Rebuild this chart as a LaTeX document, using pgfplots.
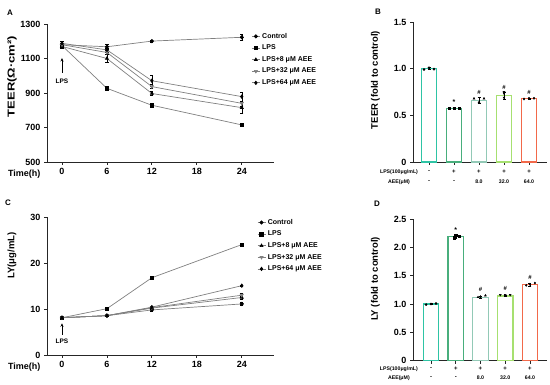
\documentclass[border=0pt]{standalone}
\usepackage{graphicx}
\usepackage{pgfplots}
\pgfplotsset{compat=1.18}
\usepackage{fontspec}
\setmainfont{Liberation Sans}
\usetikzlibrary{arrows.meta}
\definecolor{cA}{HTML}{2EC4A5}
\definecolor{cB}{HTML}{48AE7C}
\definecolor{cC}{HTML}{92C9B6}
\definecolor{cD}{HTML}{A6E070}
\definecolor{cE}{HTML}{F2694A}
\newcommand{\fs}[1]{\bfseries\fontsize{#1}{#1}\selectfont}
\begin{document}
\begin{tikzpicture}
\useasboundingbox (0pt,0pt) rectangle (550pt,385pt);
\pgfplotsset{
  base/.style={scale only axis, axis lines=left,
    axis line style={-, line width=0.9pt, black!85},
    tick style={line width=0.8pt, black!85}, tick align=outside, major tick length=3pt,
    ticklabel style={font=\fs{9}}, font=\fs{9},
    /pgf/number format/assume math mode=true, /pgf/number format/1000 sep={}, clip=false},
  ln/.style={color=black!50, line width=0.7pt, mark size=1.7pt,
    mark options={black, fill=black, solid},
    error bars/y dir=both, error bars/y explicit,
    error bars/error bar style={black, line width=0.5pt},
    error bars/error mark options={black, rotate=90, mark size=1.6pt, line width=0.5pt}},
  lg/.style={legend style={draw=none, fill=none, font=\fs{7}, row sep=1.2pt,
      inner sep=0pt, cells={anchor=west}},
    legend image code/.code={\draw[mark repeat=2,mark phase=2] plot coordinates {(0pt,0pt) (4pt,0pt) (8pt,0pt)};}},
  br/.style={ybar, bar shift=0pt, bar width=15.5pt, fill=white, line width=1.2pt,
    error bars/y dir=both, error bars/y explicit,
    error bars/error bar style={black, line width=0.5pt},
    error bars/error mark options={black, rotate=90, mark size=1.5pt, line width=0.5pt}},
  pts/.style={only marks, black, mark size=1.1pt},
}
% ---------- Panel A ----------
\begin{axis}[base, lg, at={(47pt,223pt)}, anchor=south west, width=227pt, height=138pt,
  xmin=-2, xmax=28.3, ymin=500, ymax=1300,
  xtick={0,6,12,18,24}, ytick={500,700,900,1100,1300},
  ylabel={\scalebox{1.3}[1]{TEER(Ω·cm²)}},
  ylabel style={at={(axis description cs:-0.154,0.62)}, anchor=center, font=\fs{10}},
  legend style={at={(axis description cs:0.9,0.95)}, anchor=north west}]
\addplot[ln, mark=*] coordinates {(0,1180) +- (0,10) (6,1168) +- (0,12) (12,1201) +- (0,6) (24,1223) +- (0,20)};
\addplot[ln, mark=square*] coordinates {(0,1175) +- (0,8) (6,927) +- (0,8) (12,829) +- (0,8) (24,715) +- (0,8)};
\addplot[ln, mark=triangle*] coordinates {(0,1170) +- (0,10) (6,1100) +- (0,22) (12,897) +- (0,12) (24,815) +- (0,35)};
\addplot[ln, mark=triangle*, mark options={rotate=180}] coordinates {(0,1180) +- (0,10) (6,1135) +- (0,12) (12,937) +- (0,12) (24,840) +- (0,15)};
\addplot[ln, mark=diamond*] coordinates {(0,1188) +- (0,10) (6,1150) +- (0,12) (12,971) +- (0,30) (24,879) +- (0,25)};
\legend{Control,LPS,LPS+8 μM AEE,LPS+32 μM AEE,LPS+64 μM AEE}
\draw[-{Stealth[length=3.5pt,width=3pt]}, line width=0.6pt] (axis cs:0,1016) -- (axis cs:0,1103);
\node[font=\fs{6.5}] at (axis cs:0,968) {LPS};
\node[font=\fs{9}] at (axis description cs:-0.10,-0.087) {Time(h)};
\end{axis}
% ---------- Panel C ----------
\begin{axis}[base, lg, at={(47pt,30pt)}, anchor=south west, width=227pt, height=138pt,
  xmin=-2, xmax=28.3, ymin=0, ymax=30,
  xtick={0,6,12,18,24}, ytick={0,10,20,30},
  ylabel={LY(μg/mL)},
  ylabel style={at={(axis description cs:-0.154,0.72)}, anchor=center, font=\fs{9.5}},
  legend style={at={(axis description cs:0.925,1.0)}, anchor=north west}]
\addplot[ln, mark=*] coordinates {(0,8.1) +- (0,0.2) (6,8.55) +- (0,0.2) (12,9.8) +- (0,0.2) (24,11.1) +- (0,0.3)};
\addplot[ln, mark=square*] coordinates {(0,8.1) +- (0,0.2) (6,10.07) +- (0,0.2) (12,16.8) +- (0,0.2) (24,24.0) +- (0,0.3)};
\addplot[ln, mark=triangle*] coordinates {(0,8.1) +- (0,0.2) (6,8.55) +- (0,0.2) (12,10.2) +- (0,0.2) (24,12.5) +- (0,0.3)};
\addplot[ln, mark=triangle*, mark options={rotate=180}] coordinates {(0,8.1) +- (0,0.2) (6,8.55) +- (0,0.2) (12,10.3) +- (0,0.2) (24,13.0) +- (0,0.5)};
\addplot[ln, mark=diamond*] coordinates {(0,8.1) +- (0,0.2) (6,8.55) +- (0,0.2) (12,10.4) +- (0,0.2) (24,15.07) +- (0,0.2)};
\legend{Control,LPS,LPS+8 μM AEE,LPS+32 μM AEE,LPS+64 μM AEE}
\draw[-{Stealth[length=3.5pt,width=3pt]}, line width=0.6pt] (axis cs:0,4.4) -- (axis cs:0,6.9);
\node[font=\fs{6.5}] at (axis cs:0,3.0) {LPS};
\node[font=\fs{9}] at (axis description cs:-0.10,-0.087) {Time(h)};
\end{axis}
% ---------- Panel B ----------
\begin{axis}[base, at={(413pt,223pt)}, anchor=south west, width=134pt, height=140pt,
  xmin=-0.64, xmax=4.72, ymin=0, ymax=1.5,
  xtick={0,1,2,3,4}, xticklabels={},
  ytick={0,0.5,1,1.5}, yticklabels={0,0.5,1.0,1.5},
  ylabel={TEER (fold to control)},
  ylabel style={at={(axis description cs:-0.28,0.586)}, anchor=center, font=\fs{9.5}}]
\addplot[br, draw=cA] coordinates {(0,1.0) +- (0,0.01)};
\addplot[br, draw=cB] coordinates {(1,0.575) +- (0,0.01)};
\addplot[br, draw=cC] coordinates {(2,0.663) +- (0,0.03)};
\addplot[br, draw=cD] coordinates {(3,0.71) +- (0,0.035)};
\addplot[br, draw=cE] coordinates {(4,0.677) +- (0,0.01)};
\addplot[pts, mark=*] coordinates {(-0.2,0.99) (0,1.01) (0.2,0.995)};
\addplot[pts, mark=square*] coordinates {(0.8,0.575) (1,0.58) (1.2,0.58)};
\addplot[pts, mark=triangle*] coordinates {(1.8,0.68) (2,0.64) (2.2,0.68)};
\addplot[pts, mark=triangle*, mark options={rotate=180}] coordinates {(3,0.69) (3,0.735) (3,0.75)};
\addplot[pts, mark=diamond*] coordinates {(3.8,0.675) (4,0.683) (4.2,0.683)};
\node[font=\fs{7}] at (axis cs:1,0.64) {*};
\node[font=\fs{6}] at (axis cs:2,0.75) {\#};
\node[font=\fs{6}] at (axis cs:3,0.80) {\#};
\node[font=\fs{6}] at (axis cs:4,0.75) {\#};
\node[font=\fs{5.2}] at (axis cs:-1.2,-0.104) {LPS(100μg/mL)};
\node[font=\fs{5.2}] at (axis cs:-1.2,-0.214) {AEE(μM)};
\node[font=\fs{6}] at (axis cs:0,-0.104) {-};
\node[font=\fs{6}] at (axis cs:1,-0.104) {+};
\node[font=\fs{6}] at (axis cs:2,-0.104) {+};
\node[font=\fs{6}] at (axis cs:3,-0.104) {+};
\node[font=\fs{6}] at (axis cs:4,-0.104) {+};
\node[font=\fs{6}] at (axis cs:0,-0.214) {-};
\node[font=\fs{6}] at (axis cs:1,-0.214) {-};
\node[font=\fs{5.2}] at (axis cs:2,-0.214) {8.0};
\node[font=\fs{5.2}] at (axis cs:3,-0.214) {32.0};
\node[font=\fs{5.2}] at (axis cs:4,-0.214) {64.0};
\end{axis}
% ---------- Panel D ----------
\begin{axis}[base, at={(413pt,24.3pt)}, anchor=south west, width=134pt, height=141.7pt,
  xmin=-0.73, xmax=4.69, ymin=0, ymax=2.5,
  xtick={0,1,2,3,4}, xticklabels={},
  ytick={0,0.5,1,1.5,2,2.5}, yticklabels={0,0.5,1.0,1.5,2.0,2.5},
  ylabel={LY (fold to control)},
  ylabel style={at={(axis description cs:-0.28,0.577)}, anchor=center, font=\fs{9.5}}]
\addplot[br, draw=cA] coordinates {(0,1.0) +- (0,0.01)};
\addplot[br, draw=cB] coordinates {(1,2.19) +- (0,0.03)};
\addplot[br, draw=cC] coordinates {(2,1.12) +- (0,0.02)};
\addplot[br, draw=cD] coordinates {(3,1.14) +- (0,0.01)};
\addplot[br, draw=cE] coordinates {(4,1.34) +- (0,0.02)};
\addplot[pts, mark=*] coordinates {(-0.2,0.99) (0,1.0) (0.2,1.01)};
\addplot[pts, mark=square*] coordinates {(0.95,2.17) (1,2.21) (1.15,2.19)};
\addplot[pts, mark=triangle*] coordinates {(1.9,1.12) (2,1.13) (2.2,1.15)};
\addplot[pts, mark=triangle*, mark options={rotate=180}] coordinates {(2.8,1.16) (3,1.16) (3.2,1.16)};
\addplot[pts, mark=diamond*] coordinates {(3.85,1.33) (4,1.35) (4.2,1.37)};
\node[font=\fs{7}] at (axis cs:1,2.30) {*};
\node[font=\fs{6}] at (axis cs:2,1.25) {\#};
\node[font=\fs{6}] at (axis cs:3,1.27) {\#};
\node[font=\fs{6}] at (axis cs:4,1.47) {\#};
\node[font=\fs{5.2}] at (axis cs:-1.3,-0.146) {LPS(100μg/mL)};
\node[font=\fs{5.2}] at (axis cs:-1.3,-0.30) {AEE(μM)};
\node[font=\fs{6}] at (axis cs:0,-0.146) {-};
\node[font=\fs{6}] at (axis cs:1,-0.146) {+};
\node[font=\fs{6}] at (axis cs:2,-0.146) {+};
\node[font=\fs{6}] at (axis cs:3,-0.146) {+};
\node[font=\fs{6}] at (axis cs:4,-0.146) {+};
\node[font=\fs{6}] at (axis cs:0,-0.30) {-};
\node[font=\fs{6}] at (axis cs:1,-0.30) {-};
\node[font=\fs{5.2}] at (axis cs:2,-0.30) {8.0};
\node[font=\fs{5.2}] at (axis cs:3,-0.30) {32.0};
\node[font=\fs{5.2}] at (axis cs:4,-0.30) {64.0};
\end{axis}
% panel letters
\node[font=\fs{8}] at (10pt,372pt) {A};
\node[font=\fs{8}] at (378pt,373pt) {B};
\node[font=\fs{8}] at (8pt,182pt) {C};
\node[font=\fs{8}] at (377pt,181pt) {D};
\end{tikzpicture}
\end{document}
